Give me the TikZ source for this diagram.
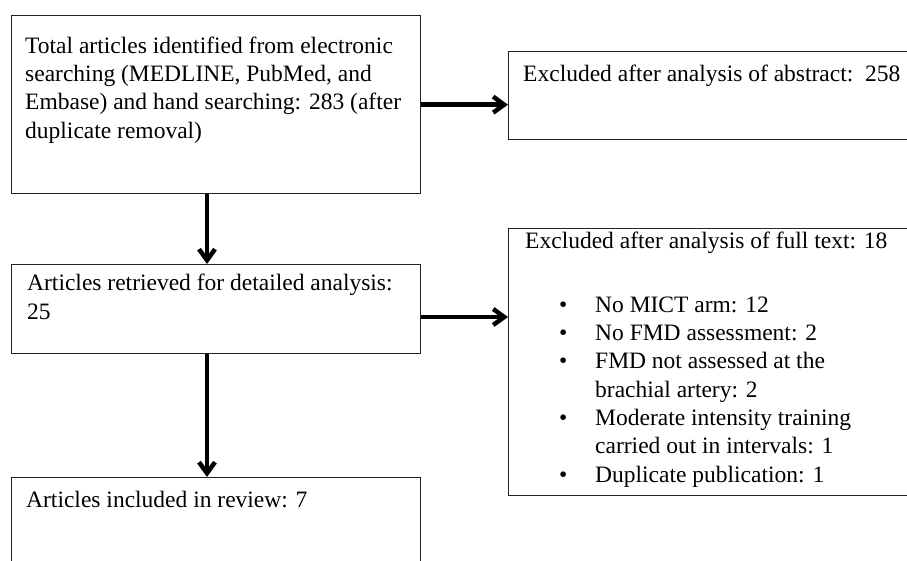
\documentclass[tikz,border=0pt]{standalone}
\usepackage{fontspec}
\setmainfont{Liberation Serif}
\usetikzlibrary{arrows.meta}
\definecolor{rahmen}{RGB}{35,35,35}
\newcommand{\punkt}{\makebox[36pt][l]{\textbullet}}
\newcommand{\weiter}{\hspace*{36pt}}

\begin{document}
\begin{tikzpicture}[x=1pt,y=-1pt,
    kasten/.style={draw=rahmen,line width=1.3pt,rectangle,inner sep=0pt,anchor=north west},
    txt/.style={anchor=base west,inner sep=0pt,align=left,
      font=\fontsize{23.5}{28.3}\selectfont},
    pfeil/.style={-{Straight Barb[length=11pt,width=16pt]},line width=4.5pt}]
    \useasboundingbox (0,0) rectangle (907,560);
    \clip (0,0) rectangle (907,560);
    \node[kasten,minimum width=409pt,minimum height=178pt] (total) at (11,15) {};
    \node[kasten,minimum width=404pt,minimum height=88pt] (absex) at (508,51) {};
    \node[kasten,minimum width=409pt,minimum height=89pt] (retr) at (11,264) {};
    \node[kasten,minimum width=404pt,minimum height=267pt] (fullex) at (508,228) {};
    \node[kasten,minimum width=409pt,minimum height=103pt] (incl) at (11,477) {};
    % base = baseline of the last line
    \node[txt] (totaltxt) at (25,138)
      {Total articles identified from electronic\\
       searching (MEDLINE, PubMed, and\\
       Embase) and hand searching: 283 (after\\
       duplicate removal)};
    \node[txt] (absextxt) at (523,81) {Excluded after analysis of abstract:\ \ 258};
    \node[txt] (retrtxt) at (27,319)
      {Articles retrieved for detailed analysis:\\ 25};
    \node[txt] (fullextxt) at (525,248) {Excluded after analysis of full text: 18};
    \node[txt] (gruende) at (559,482)
      {\punkt No MICT arm: 12\\
       \punkt No FMD assessment: 2\\
       \punkt FMD not assessed at the\\
       \weiter brachial artery: 2\\
       \punkt Moderate intensity training\\
       \weiter carried out in intervals: 1\\
       \punkt Duplicate publication: 1};
    \node[txt] (incltxt) at (26,507) {Articles included in review: 7};
    \coordinate (spine) at (207,0);
    \coordinate (hoehe) at (0,317);
    \draw[pfeil] (total.south -| spine) -- (retr.north -| spine);
    \draw[pfeil] (retr.south -| spine) -- (incl.north -| spine);
    \draw[pfeil] (total.east) -- (total.east -| absex.west);
    \draw[pfeil] (retr.east |- hoehe) -- (fullex.west |- hoehe);
\end{tikzpicture}
\end{document}
